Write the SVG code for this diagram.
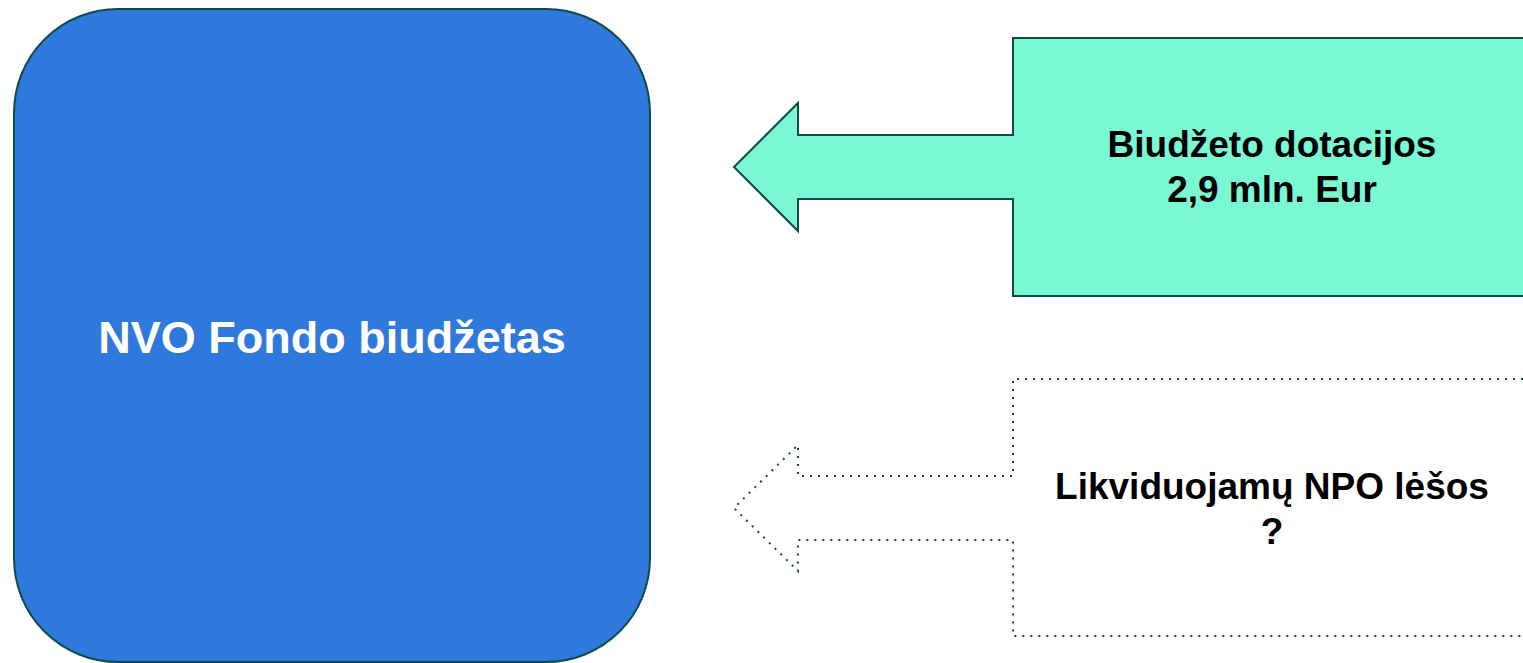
<svg xmlns="http://www.w3.org/2000/svg" width="1523" height="663" viewBox="0 0 1523 663">
  <style>
    .lbl { font-family: "Liberation Sans", Arial, sans-serif; font-weight: bold; text-anchor: middle; }
    .solid { fill: #7af8d4; stroke: #0f4b4b; stroke-width: 2; stroke-linejoin: miter; }
    .dotted { fill: none; stroke: #0f4b4b; stroke-width: 2; stroke-dasharray: 2 6; }
  </style>
  <g id="nvo-fondas">
    <rect x="14" y="9" width="636" height="653" rx="104" ry="104" fill="#2f78dc" stroke="#0f4b4b" stroke-width="2"/>
    <text class="lbl" x="332" y="353" font-size="45" fill="#ffffff">NVO Fondo biudžetas</text>
  </g>
  <g id="connectors">
    <g id="biudzeto-dotacijos">
      <path class="solid" d="M1531 38 L1013 38 L1013 135 L798 135 L798 103 L734 167 L798 231 L798 199 L1013 199 L1013 296 L1531 296 Z"/>
      <text class="lbl" x="1272" y="157" font-size="37" fill="#000000">Biudžeto dotacijos</text>
      <text class="lbl" x="1272" y="202" font-size="37" fill="#000000">2,9 mln. Eur</text>
    </g>
    <g id="likviduojamu-npo">
      <path class="dotted" d="M1531 379 L1013 379 L1013 476 L798 476 L798 445 L734 508 L798 571 L798 540 L1013 540 L1013 636 L1531 636"/>
      <text class="lbl" x="1272" y="499" font-size="37" fill="#000000">Likviduojamų NPO lėšos</text>
      <text class="lbl" x="1272" y="544" font-size="37" fill="#000000">?</text>
    </g>
  </g>
</svg>
